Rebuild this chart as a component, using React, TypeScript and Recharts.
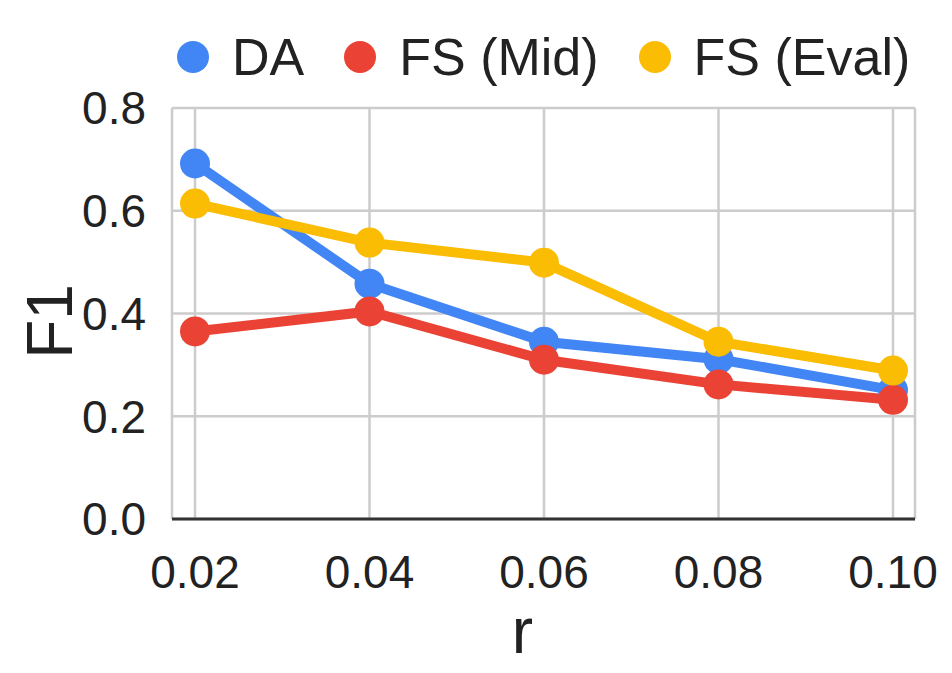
import { LineChart, Line, XAxis, YAxis, CartesianGrid, Legend, Label } from 'recharts'

// ---------------------------------------------------------------------------
// Data
// ---------------------------------------------------------------------------
const rValues = [0.02, 0.04, 0.06, 0.08, 0.1]
const daValues = [0.692, 0.458, 0.345, 0.311, 0.251]
const fsMidValues = [0.365, 0.404, 0.31, 0.262, 0.232]
const fsEvalValues = [0.614, 0.538, 0.499, 0.345, 0.289]
const yTicks = [0, 0.2, 0.4, 0.6, 0.8]

const series = [
  { key: 'da', name: 'DA', color: '#4285F4', values: daValues },
  { key: 'fsMid', name: 'FS (Mid)', color: '#EA4335', values: fsMidValues },
  { key: 'fsEval', name: 'FS (Eval)', color: '#FBBC04', values: fsEvalValues },
]

const data = rValues.map((r, i) => {
  const row: Record<string, number> = { r }
  series.forEach((s) => {
    row[s.key] = s.values[i]
  })
  return row
})

const FONT = '"Liberation Sans", Arial, sans-serif'
const TEXT = '#222222'

// ---------------------------------------------------------------------------
// Legend
// ---------------------------------------------------------------------------
function ChartLegend() {
  return (
    <div
      style={{
        height: 88,
        display: 'flex',
        alignItems: 'center',
        paddingLeft: 177,
        paddingBottom: 14,
        boxSizing: 'border-box',
        fontFamily: FONT,
        fontSize: 52,
        color: TEXT,
        lineHeight: 1,
      }}
    >
      {series.map((s) => (
        <div key={s.key} style={{ display: 'flex', alignItems: 'center', marginRight: 40 }}>
          <span
            style={{
              width: 32,
              height: 32,
              borderRadius: '50%',
              backgroundColor: s.color,
              marginRight: 23,
            }}
          />
          <span style={{ whiteSpace: 'nowrap' }}>{s.name}</span>
        </div>
      ))}
    </div>
  )
}

export default function App() {
  return (
    <div style={{ position: 'absolute', left: 0, top: 0 }}>
      <LineChart
        width={952}
        height={673}
        data={data}
        margin={{ top: 20, right: 37, bottom: 0, left: 0 }}
      >
        <Legend verticalAlign="top" content={<ChartLegend />} />
        <CartesianGrid stroke="#cccccc" strokeWidth={2.5} />

        <XAxis
          dataKey="r"
          type="number"
          domain={[0.02, 0.1]}
          ticks={rValues}
          padding={{ left: 23, right: 22 }}
          tickFormatter={(v: number) => v.toFixed(2)}
          height={154}
          tickLine={false}
          tickSize={0}
          tickMargin={36}
          axisLine={{ stroke: '#333333', strokeWidth: 3 }}
          tick={{ fill: TEXT, fontSize: 46, fontFamily: FONT }}
        >
          <Label
            content={(props: any) => {
              const vb = props.viewBox
              return (
                <text
                  x={vb.x + vb.width / 2 - 21}
                  y={vb.y + 134}
                  textAnchor="middle"
                  fill={TEXT}
                  fontSize={64}
                  fontFamily={FONT}
                >
                  r
                </text>
              )
            }}
          />
        </XAxis>

        <YAxis
          domain={[0, 0.8]}
          ticks={yTicks}
          width={172}
          tickFormatter={(v: number) => v.toFixed(1)}
          tickLine={false}
          tickSize={0}
          tickMargin={26}
          axisLine={false}
          tick={{ fill: TEXT, fontSize: 46, fontFamily: FONT }}
        >
          <Label
            content={(props: any) => {
              const vb = props.viewBox
              const x = vb.x + 72
              const y = vb.y + vb.height / 2 + 8
              return (
                <text
                  x={x}
                  y={y}
                  transform={`rotate(-90, ${x}, ${y})`}
                  textAnchor="middle"
                  fill={TEXT}
                  fontSize={64}
                  fontFamily={FONT}
                >
                  F1
                </text>
              )
            }}
          />
        </YAxis>

        {series.map((s) => (
          <Line
            key={s.key}
            dataKey={s.key}
            name={s.name}
            stroke={s.color}
            strokeWidth={10}
            dot={{ r: 15, fill: s.color, stroke: 'none' }}
            activeDot={false}
            isAnimationActive={false}
          />
        ))}
      </LineChart>
    </div>
  )
}
